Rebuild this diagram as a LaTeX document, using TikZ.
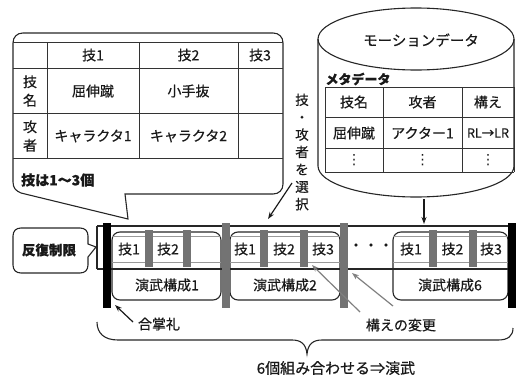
\documentclass[tikz,border=0pt]{standalone}
\usepackage{fontspec}
\setmainfont{Noto Sans CJK JP}[FakeBold=0.5]
\newfontfamily\symfont{DejaVu Sans}
\usetikzlibrary{arrows.meta}
\newcommand{\fsz}[1]{\fontsize{#1}{#1}\selectfont}
\begin{document}
\begin{tikzpicture}[x=1pt,y=-1pt,
  ln/.style={draw=black!85, line width=1.1pt},
  tl/.style={draw=black!80, line width=0.9pt},
  txt/.style={inner sep=0pt, text=black!90, font=\fsz{14}},
  graybar/.style={fill=black!55, draw=none},
  blackbar/.style={fill=black, draw=none},
  techline/.style={draw=black!40, line width=0.9pt},
  arr/.style={-{Stealth[length=7pt,width=5pt]}, line width=1.2pt, draw=black!90},
  garr/.style={-{Stealth[length=7pt,width=5pt]}, line width=1.2pt, draw=black!50},
]
\useasboundingbox (0,0) rectangle (516,380);

% ---------- speech bubble with table ----------
\draw[ln] (128,219) -- (125,194) -- (273,194)
  .. controls (279,194) and (283,190) .. (283,184) -- (283,43)
  .. controls (283,37) and (279,33) .. (273,33) -- (23,33)
  .. controls (17,33) and (13,37) .. (13,43) -- (13,182)
  .. controls (13,188) and (16,191) .. (21,193) -- cycle;
\foreach \yy in {42,68,113,158} \draw[tl] (13,\yy) -- (283,\yy);
\foreach \xx in {47,139,238} \draw[tl] (\xx,42) -- (\xx,158);
\node[txt] (h1) at (93,55) {技1};
\node[txt] (h2) at (188.5,55) {技2};
\node[txt] (h3) at (260,55) {技3};
\node[txt, align=center, font=\fontsize{14}{18.5}\selectfont] (r1) at (30,91) {技\\名};
\node[txt, align=center, font=\fontsize{14}{18.5}\selectfont] (r2) at (30,136) {攻\\者};
\node[txt] (c11) at (93,91) {屈伸蹴};
\node[txt] (c12) at (188.5,91) {小手抜};
\node[txt] (c21) at (93,136) {キャラクタ1};
\node[txt] (c22) at (188.5,136) {キャラクタ2};
\node[txt, font=\fsz{14}\bfseries, anchor=west] (cnt) at (21,180) {技は1～3個};

% ---------- vertical label ----------
\node[txt, align=center, font=\fontsize{13.5}{17.4}\selectfont] (sel) at (302,152) {技\\・\\攻\\者\\を\\選\\択};
\coordinate (selA) at (292,183);
\coordinate (selB) at (268,219);
\draw[arr] (selA) -- (selB);

% ---------- cylinder ----------
\draw[ln, fill=white] (318,39) -- (318,166)
  arc[start angle=180, end angle=360, x radius=98pt, y radius=31pt] -- (514,39);
\draw[ln] (416,39) ellipse [x radius=98pt, y radius=31pt];
\node[txt, font=\fsz{14.5}] (md) at (421,40) {モーションデータ};
\node[txt, font=\fsz{13}\bfseries] (meta) at (358,79) {メタデータ};
\foreach \yy in {87,117,148,172} \draw[tl] (325,\yy) -- (514,\yy);
\foreach \xx in {325,383,462,514} \draw[tl] (\xx,87) -- (\xx,172);
\node[txt] (m1) at (354,102) {技名};
\node[txt] (m2) at (422.5,102) {攻者};
\node[txt] (m3) at (488,102) {構え};
\node[txt] (m4) at (354,133) {屈伸蹴};
\node[txt] (m5) at (422.5,133) {アクター1};
\node[txt, font=\fsz{12.5}] (m6) at (488,133) {RL→LR};
\node[txt, font=\symfont\fsz{14}] (m7) at (354,160) {⋮};
\node[txt, font=\symfont\fsz{14}] (m8) at (422.5,160) {⋮};
\node[txt, font=\symfont\fsz{14}] (m9) at (488,160) {⋮};
\coordinate (cylB) at (424,199);
\coordinate (box6T) at (424,224);
\draw[arr] (cylB) -- (box6T);

% ---------- timeline ----------
\draw[ln] (97,226) -- (512,226);
\draw[ln] (97,269) -- (512,269);
\draw[ln] (97,226) -- (97,269);
% boxes
\draw[ln, rounded corners=8pt] (112,232) rectangle (221,300);
\draw[ln, rounded corners=8pt] (230,232) rectangle (340,300);
\draw[ln, rounded corners=8pt] (393,232) rectangle (508,300);
\foreach \a/\b in {112/221,230/340,393/508}{
  \draw[techline] (\a,236) -- (\b,236);
  \draw[techline] (\a,262) -- (\b,262);
}
% small gray bars
\foreach \xx in {149,187,264,303.5,432.5,472.5}
  \fill[graybar] (\xx-4,230) rectangle (\xx+4,267);
% big gray bars
\foreach \xx in {225.5,344}
  \fill[graybar] (\xx-4,223) rectangle (\xx+4,308);
% black bars
\fill[blackbar] (103,223) rectangle (111,308);
\fill[blackbar] (508,223) rectangle (516,308);
% labels
\node[txt] (t11) at (129,249) {技1};
\node[txt] (t12) at (168,249) {技2};
\node[txt] (t21) at (245,249) {技1};
\node[txt] (t22) at (284,249) {技2};
\node[txt] (t23) at (323,249) {技3};
\node[txt] (t61) at (411,249) {技1};
\node[txt] (t62) at (452.5,249) {技2};
\node[txt] (t63) at (491,249) {技3};
\node[txt, font=\fsz{15}] (dots) at (371,247) {・・・};
\node[txt] (e1) at (167,285) {演武構成1};
\node[txt] (e2) at (285,285) {演武構成2};
\node[txt] (e6) at (450,285) {演武構成6};

% 反復制限 callout
\draw[ln] (96,247) -- (88,244) -- (88,236)
  .. controls (88,231) and (85,228) .. (80,228) -- (21,228)
  .. controls (16,228) and (13,231) .. (13,236) -- (13,265)
  .. controls (13,270) and (16,273) .. (21,273) -- (80,273)
  .. controls (85,273) and (88,270) .. (88,265) -- (88,257) -- cycle;
\node[txt, font=\fsz{13.5}\bfseries] (rep) at (49,250) {反復制限};

% 合掌礼
\node[txt] (gs) at (159,324) {合掌礼};
\coordinate (gsA) at (133,322);
\coordinate (gsB) at (115,305);
\draw[arr] (gsA) -- (gsB);

% 構えの変更
\node[txt] (kh) at (401,325) {構えの変更};
\coordinate (k1A) at (360,312);
\coordinate (k1B) at (312,265);
\coordinate (k2A) at (393,306);
\coordinate (k2B) at (352,273);
\draw[garr] (k1A) -- (k1B);
\draw[garr] (k2A) -- (k2B);

% brace
\draw[ln] (97,322) .. controls (97,333) and (104,340) .. (118,340) -- (292,340)
  .. controls (301,340) and (306,344) .. (307,354)
  .. controls (308,344) and (313,340) .. (322,340) -- (498,340)
  .. controls (508,340) and (513,336) .. (513,328);
\node[txt, font=\fsz{15}] (sum) at (336,368) {6個組み合わせる⇒演武};
\end{tikzpicture}
\end{document}
